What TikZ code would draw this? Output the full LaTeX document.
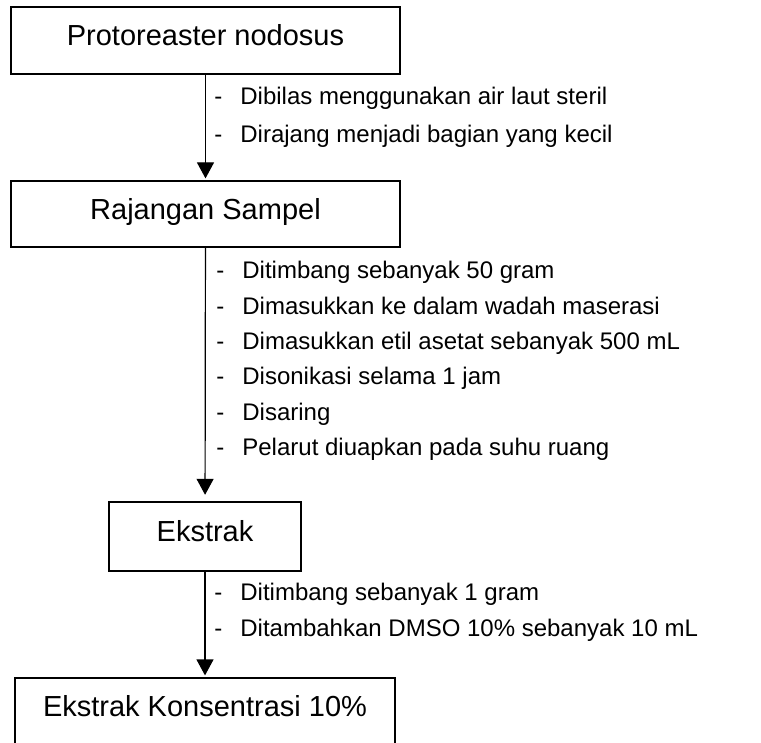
\documentclass[tikz,border=0pt]{standalone}
\usepackage{fontspec}
\setmainfont{Liberation Sans}
\usetikzlibrary{arrows.meta}

\tikzset{
    procbox/.style={draw,line width=0.6pt,inner sep=0pt,
        font=\fontsize{14.5pt}{17pt}\selectfont,text height=10.4pt,text depth=5pt},
    steplist/.style={anchor=north west,align=left,inner sep=0pt,
        font=\fontsize{12pt}{17.7pt}\selectfont},
    flow/.style={line width=0.6pt,-{Triangle[length=8pt,width=8.5pt]}}
}
\newcommand{\stepitem}[1]{\makebox[13pt][l]{-}#1}

\begin{document}
\begin{tikzpicture}[x=0.5pt,y=-0.5pt]%
    \useasboundingbox (0,0) rectangle (761,743);
    % boxes
    \node[procbox,minimum width=194.5pt,minimum height=33.5pt] (sea) at (205.5,40.5) {Protoreaster nodosus};
    \node[procbox,minimum width=194.5pt,minimum height=33pt] (chop) at (205.5,214) {Rajangan Sampel};
    \node[procbox,minimum width=96pt,minimum height=34.5pt] (extract) at (205,536.5) {Ekstrak};
    \node[procbox,minimum width=190pt,minimum height=33.5pt] (conc) at (205,711.5) {Ekstrak Konsentrasi 10\%};
    % steps
    \node[steplist,font=\fontsize{12pt}{18.8pt}\selectfont] (prep) at (214,87)
        {\stepitem{Dibilas menggunakan air laut steril}\\
         \stepitem{Dirajang menjadi bagian yang kecil}};
    \node[steplist] (macer) at (216,261)
        {\stepitem{Ditimbang sebanyak 50 gram}\\
         \stepitem{Dimasukkan ke dalam wadah maserasi}\\
         \stepitem{Dimasukkan etil asetat sebanyak 500 mL}\\
         \stepitem{Disonikasi selama 1 jam}\\
         \stepitem{Disaring}\\
         \stepitem{Pelarut diuapkan pada suhu ruang}};
    \node[steplist] (dilute) at (214,583)
        {\stepitem{Ditimbang sebanyak 1 gram}\\
         \stepitem{Ditambahkan DMSO 10\% sebanyak 10 mL}};
    % arrows
    \draw[flow,shorten >=1pt] (sea) -- (chop);
    \draw[flow,shorten >=3.3pt] (chop) -- (extract);
    \draw[flow,shorten >=1pt] (extract) -- (conc);
\end{tikzpicture}
\end{document}
